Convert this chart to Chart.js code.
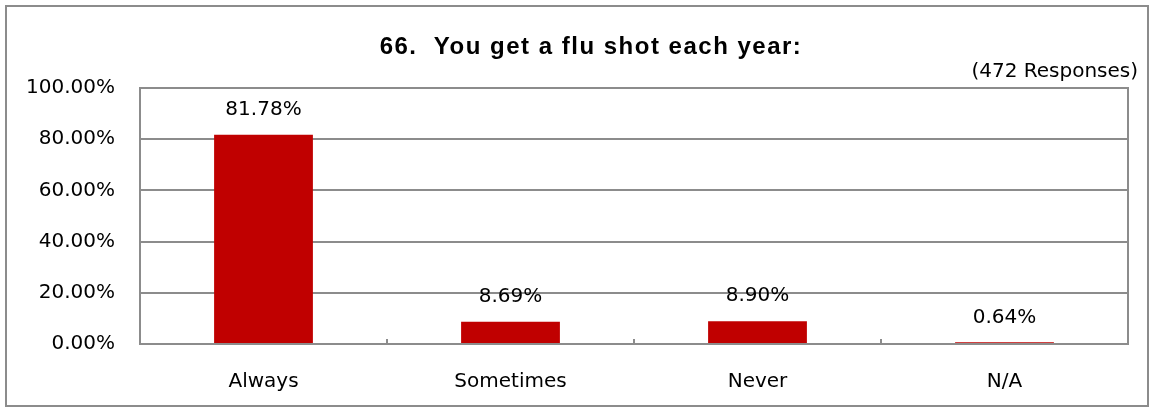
<!DOCTYPE html>
<html>
<head>
<meta charset="utf-8">
<script src="https://cdn.jsdelivr.net/npm/chart.js@4"></script>
<style>
  html, body { margin: 0; padding: 0; background: #fff; }
  #wrap { position: relative; width: 1153px; height: 409px; }
  #frame { position: absolute; left: 5px; top: 5px; width: 1144px; height: 402px; border: 2px solid #8c8c8c; box-sizing: border-box; pointer-events: none; }
</style>
</head>
<body>
<div id="wrap">
  <canvas id="myGrafic" width="1153" height="409"></canvas>
  <div id="frame"></div>
</div>
<script>
let labels = ['Always', 'Sometimes', 'Never', 'N/A'];
let values = [81.78, 8.69, 8.90, 0.64];
let yTicks = [0, 20, 40, 60, 80, 100];
let titleText = '66.  You get a flu shot each year:';
let responsesText = '(472 Responses)';

const FONT = 'DejaVu Sans';

// marcos, titulo y etiquetas de valor
const extras = {
  id: 'extras',
  afterDatasetsDraw(chart) {
    const ctx = chart.ctx;
    const area = chart.chartArea;
    ctx.save();
    // caja del area de grafico
    ctx.strokeStyle = '#8c8c8c';
    ctx.lineWidth = 2;
    ctx.strokeRect(area.left, area.top, area.right - area.left, area.bottom - area.top);
    // marcas del eje x hacia adentro
    const step = (area.right - area.left) / labels.length;
    ctx.beginPath();
    for (let i = 1; i < labels.length; i++) {
      const x = Math.round(area.left + i * step);
      ctx.moveTo(x, area.bottom);
      ctx.lineTo(x, area.bottom - 5);
    }
    ctx.stroke();
    // valores sobre las barras
    ctx.fillStyle = '#000';
    ctx.font = '20px "' + FONT + '"';
    ctx.textAlign = 'center';
    ctx.textBaseline = 'middle';
    chart.getDatasetMeta(0).data.forEach((bar, i) => {
      ctx.fillText(values[i].toFixed(2) + '%', bar.x, bar.y - 25);
    });
    // titulo
    ctx.font = 'bold 24px "Liberation Sans"';
    ctx.letterSpacing = '1.5px';
    ctx.fillText(titleText, 591, 47);
    ctx.letterSpacing = '0px';
    ctx.font = '20px "' + FONT + '"';
    ctx.textAlign = 'right';
    ctx.fillText(responsesText, 1138, 72);
    ctx.restore();
  }
};

let myChart = {
  type: 'bar',
  data: {
    labels: labels,
    datasets: [{
      data: values,
      backgroundColor: '#c00000',
      barPercentage: 0.4,
      categoryPercentage: 1.0
    }]
  },
  options: {
    responsive: false,
    animation: false,
    layout: { padding: { top: 88, right: 25, left: 0, bottom: 0 } },
    plugins: {
      legend: { display: false },
      tooltip: { enabled: false }
    },
    scales: {
      x: {
        grid: { display: false },
        border: { display: false },
        ticks: { color: '#000', font: { family: FONT, size: 20 }, padding: 18 },
        afterFit: s => { s.height = 65; }
      },
      y: {
        min: 0,
        max: 100,
        afterBuildTicks: s => { s.ticks = yTicks.map(v => ({ value: v })); },
        grid: { color: '#8c8c8c', lineWidth: 2, drawTicks: false },
        border: { display: false },
        ticks: {
          color: '#000',
          font: { family: FONT, size: 20 },
          padding: 25,
          callback: v => v.toFixed(2) + '%'
        },
        afterFit: s => { s.width = 140; }
      }
    }
  },
  plugins: [extras]
};

var myGrafic = document.getElementById('myGrafic');
window.bar = new Chart(myGrafic, myChart);
</script>
</body>
</html>
